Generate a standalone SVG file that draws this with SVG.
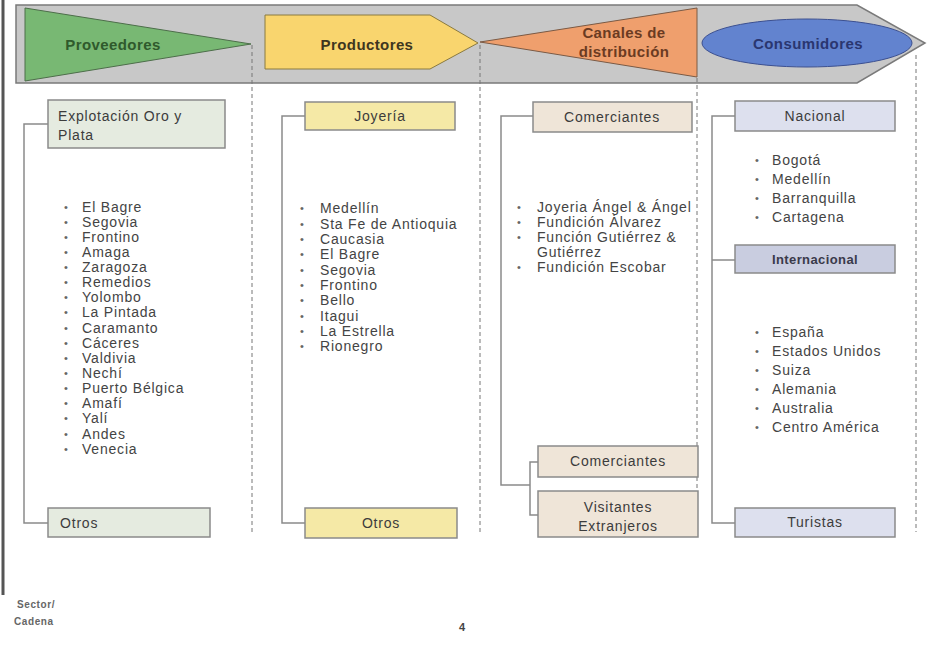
<svg xmlns="http://www.w3.org/2000/svg" width="931" height="649" viewBox="0 0 931 649">
<style>
  text { font-family: "Liberation Sans", Arial, sans-serif; }
  .hdr { font-size: 15px; font-weight: bold; text-anchor: middle; letter-spacing: 0.4px; }
  .box { stroke: #8a8a8a; stroke-width: 1.5; }
  .bt { font-size: 14px; fill: #3c3c3c; letter-spacing: 0.8px; }
  .btc { font-size: 14px; fill: #3c3c3c; text-anchor: middle; letter-spacing: 0.8px; }
  .li { font-size: 14px; fill: #444; letter-spacing: 0.8px; }
  .bul { font-size: 11px; fill: #666; }
  .dash { stroke: #777; stroke-width: 1; stroke-dasharray: 4 3; fill: none; }
  .conn { stroke: #8a8a8a; stroke-width: 1.5; fill: none; }
  .ft { font-size: 10px; font-weight: bold; fill: #666; letter-spacing: 0.6px; }
</style>
<rect width="931" height="649" fill="#ffffff"/>
<!-- left bar -->
<line x1="3" y1="0" x2="3" y2="595" stroke="#555" stroke-width="3"/>

<!-- header band -->
<g id="band">
  <polygon points="16,5 857,5 925,43 857,83 16,83" fill="#c8c8c8" stroke="#7a7a7a" stroke-width="1.5"/>
</g>
<g id="proveedores">
  <polygon points="25,8 251,44 25,81" fill="#78b873" stroke="#4d6e4a" stroke-width="1"/>
  <text class="hdr" x="113" y="50" fill="#2f5a2c">Proveedores</text>
</g>
<g id="productores">
  <polygon points="265,15 430,15 478,43 430,69 265,69" fill="#f9d56e" stroke="#8a7a40" stroke-width="1"/>
  <text class="hdr" x="367" y="50" fill="#3e3620">Productores</text>
</g>
<g id="canales">
  <polygon points="480,42 697,8 697,77" fill="#ef9f6d" stroke="#7a5a45" stroke-width="1"/>
  <text class="hdr" x="624" y="38" fill="#6b3b22">Canales de</text>
  <text class="hdr" x="624" y="57" fill="#6b3b22">distribución</text>
</g>
<g id="consumidores">
  <ellipse cx="807" cy="43" rx="105" ry="24" fill="#6283cf" stroke="#3c5090" stroke-width="1"/>
  <text class="hdr" x="808" y="49" fill="#2a3670">Consumidores</text>
</g>

<!-- dashed separators -->
<g id="separators">
  <line class="dash" x1="252" y1="45" x2="252" y2="532"/>
  <line class="dash" x1="480" y1="45" x2="480" y2="532"/>
  <line class="dash" x1="697" y1="78" x2="697" y2="532"/>
  <line class="dash" x1="916" y1="55" x2="916" y2="532"/>
</g>

<!-- connectors -->
<g id="connectors">
  <polyline class="conn" points="48,124 24,124 24,523 48,523"/>
  <polyline class="conn" points="305,116 282,116 282,523 305,523"/>
  <polyline class="conn" points="533,116 501,116 501,485 530,485"/>
  <polyline class="conn" points="538,462 530,462 530,515 538,515"/>
  <polyline class="conn" points="735,116 712,116 712,523 735,523"/>
  <line class="conn" x1="712" y1="260" x2="735" y2="260"/>
</g>

<!-- column 1 -->
<g id="explotacion">
  <rect class="box" x="48" y="100" width="177" height="48" fill="#e5ebe0"/>
  <text class="bt" x="58" y="121">Explotación Oro y</text>
  <text class="bt" x="58" y="140">Plata</text>
</g>
<g id="otros1">
  <rect class="box" x="48" y="508" width="162" height="29" fill="#e5ebe0"/>
  <text class="bt" x="60" y="528">Otros</text>
</g>
<g id="list1">
  <g class="bul">
    <text x="64" y="211">•</text><text x="64" y="226">•</text><text x="64" y="241">•</text><text x="64" y="256">•</text>
    <text x="64" y="271">•</text><text x="64" y="286">•</text><text x="64" y="301">•</text><text x="64" y="316">•</text>
    <text x="64" y="332">•</text><text x="64" y="347">•</text><text x="64" y="362">•</text><text x="64" y="377">•</text>
    <text x="64" y="392">•</text><text x="64" y="407">•</text><text x="64" y="422">•</text><text x="64" y="438">•</text>
    <text x="64" y="453">•</text>
  </g>
  <g class="li">
    <text x="82" y="212">El Bagre</text>
    <text x="82" y="227">Segovia</text>
    <text x="82" y="242">Frontino</text>
    <text x="82" y="257">Amaga</text>
    <text x="82" y="272">Zaragoza</text>
    <text x="82" y="287">Remedios</text>
    <text x="82" y="302">Yolombo</text>
    <text x="82" y="317">La Pintada</text>
    <text x="82" y="333">Caramanto</text>
    <text x="82" y="348">Cáceres</text>
    <text x="82" y="363">Valdivia</text>
    <text x="82" y="378">Nechí</text>
    <text x="82" y="393">Puerto Bélgica</text>
    <text x="82" y="408">Amafí</text>
    <text x="82" y="423">Yalí</text>
    <text x="82" y="439">Andes</text>
    <text x="82" y="454">Venecia</text>
  </g>
</g>

<!-- column 2 -->
<g id="joyeria">
  <rect class="box" x="305" y="102" width="150" height="28" fill="#f5e9a6"/>
  <text class="btc" x="380" y="121">Joyería</text>
</g>
<g id="otros2">
  <rect class="box" x="305" y="508" width="152" height="30" fill="#f5e9a6"/>
  <text class="btc" x="381" y="528">Otros</text>
</g>
<g id="list2">
  <g class="bul">
    <text x="300" y="212">•</text><text x="300" y="228">•</text><text x="300" y="243">•</text><text x="300" y="258">•</text>
    <text x="300" y="274">•</text><text x="300" y="289">•</text><text x="300" y="304">•</text><text x="300" y="320">•</text>
    <text x="300" y="335">•</text><text x="300" y="350">•</text>
  </g>
  <g class="li">
    <text x="320" y="213">Medellín</text>
    <text x="320" y="229">Sta Fe de Antioquia</text>
    <text x="320" y="244">Caucasia</text>
    <text x="320" y="259">El Bagre</text>
    <text x="320" y="275">Segovia</text>
    <text x="320" y="290">Frontino</text>
    <text x="320" y="305">Bello</text>
    <text x="320" y="321">Itagui</text>
    <text x="320" y="336">La Estrella</text>
    <text x="320" y="351">Rionegro</text>
  </g>
</g>

<!-- column 3 -->
<g id="comerciantes1">
  <rect class="box" x="533" y="102" width="159" height="30" fill="#efe5d8"/>
  <text class="btc" x="612" y="122">Comerciantes</text>
</g>
<g id="list3">
  <g class="bul">
    <text x="517" y="211">•</text><text x="517" y="226">•</text><text x="517" y="241">•</text><text x="517" y="271">•</text>
  </g>
  <g class="li">
    <text x="537" y="212">Joyeria Ángel &amp; Ángel</text>
    <text x="537" y="227">Fundición Álvarez</text>
    <text x="537" y="242">Función Gutiérrez &amp;</text>
    <text x="537" y="257">Gutiérrez</text>
    <text x="537" y="272">Fundición Escobar</text>
  </g>
</g>
<g id="comerciantes2">
  <rect class="box" x="538" y="446" width="160" height="31" fill="#efe5d8"/>
  <text class="btc" x="618" y="466">Comerciantes</text>
</g>
<g id="visitantes">
  <rect class="box" x="538" y="491" width="160" height="46" fill="#efe5d8"/>
  <text class="btc" x="618" y="512">Visitantes</text>
  <text class="btc" x="618" y="531">Extranjeros</text>
</g>

<!-- column 4 -->
<g id="nacional">
  <rect class="box" x="735" y="101" width="160" height="30" fill="#dde0ee"/>
  <text class="btc" x="815" y="121">Nacional</text>
</g>
<g id="list4a">
  <g class="bul">
    <text x="755" y="164">•</text><text x="755" y="183">•</text><text x="755" y="202">•</text><text x="755" y="221">•</text>
  </g>
  <g class="li">
    <text x="772" y="165">Bogotá</text>
    <text x="772" y="184">Medellín</text>
    <text x="772" y="203">Barranquilla</text>
    <text x="772" y="222">Cartagena</text>
  </g>
</g>
<g id="internacional">
  <rect class="box" x="735" y="245" width="160" height="28" fill="#c9cde0"/>
  <text class="btc" x="815" y="264" style="font-size:13px;font-weight:bold;letter-spacing:0.4px;fill:#3a3a4a">Internacional</text>
</g>
<g id="list4b">
  <g class="bul">
    <text x="755" y="336">•</text><text x="755" y="355">•</text><text x="755" y="374">•</text><text x="755" y="393">•</text>
    <text x="755" y="412">•</text><text x="755" y="431">•</text>
  </g>
  <g class="li">
    <text x="772" y="337">España</text>
    <text x="772" y="356">Estados Unidos</text>
    <text x="772" y="375">Suiza</text>
    <text x="772" y="394">Alemania</text>
    <text x="772" y="413">Australia</text>
    <text x="772" y="432">Centro América</text>
  </g>
</g>
<g id="turistas">
  <rect class="box" x="735" y="508" width="160" height="29" fill="#dde0ee"/>
  <text class="btc" x="815" y="527">Turistas</text>
</g>

<!-- footer -->
<g id="footer">
  <text class="ft" x="17" y="608">Sector/</text>
  <text class="ft" x="14" y="625">Cadena</text>
  <text x="462" y="631" style="font-size:11px;font-weight:bold;fill:#444;text-anchor:middle">4</text>
</g>
</svg>
